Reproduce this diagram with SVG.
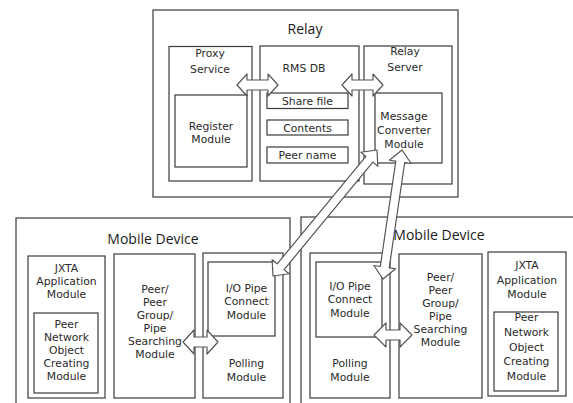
<svg xmlns="http://www.w3.org/2000/svg" width="573" height="403" viewBox="0 0 573 403">
<style>
.box{fill:none;stroke:#3a3a3a;stroke-width:1.2}
.t{font-family:"DejaVu Sans","Open Sans",sans-serif;font-size:10.8px;fill:#2a2a2a;text-anchor:middle}
.h{font-family:"Open Sans","Noto Sans",sans-serif;font-size:14px;fill:#1a1a1a;text-anchor:middle}
.ar{fill:#fff;stroke:#555;stroke-width:1.2;stroke-linejoin:round}
</style>
<rect width="573" height="403" fill="#fff"/>
<g id="relay">
<rect class="box" x="153" y="10" width="305" height="187"/>
<text class="h" x="305" y="34" font-size="13.5">Relay</text>
</g>
<g id="proxy-service">
<rect class="box" x="169" y="46.5" width="83" height="134.5"/>
<text class="t" x="210" y="57">Proxy</text>
<text class="t" x="210" y="73">Service</text>
</g>
<g id="register-module">
<rect class="box" x="175" y="95" width="72" height="72"/>
<text class="t" x="211" y="129.5">Register</text>
<text class="t" x="211" y="142.5">Module</text>
</g>
<g id="rms-db">
<rect class="box" x="260" y="46" width="99" height="135"/>
<text class="t" x="304" y="72">RMS DB</text>
</g>
<g id="share-file">
<rect class="box" x="267" y="93" width="81" height="15.5"/>
<text class="t" x="307.5" y="104.5">Share file</text>
</g>
<g id="contents">
<rect class="box" x="267" y="120" width="81" height="15"/>
<text class="t" x="307.5" y="131.5">Contents</text>
</g>
<g id="peer-name">
<rect class="box" x="267" y="147" width="81" height="16"/>
<text class="t" x="307.5" y="159">Peer name</text>
</g>
<g id="relay-server">
<rect class="box" x="364" y="46" width="88" height="138"/>
<text class="t" x="405" y="55">Relay</text>
<text class="t" x="405" y="70.5">Server</text>
</g>
<g id="message-converter">
<rect class="box" x="375" y="93" width="67" height="70"/>
<text class="t" x="404" y="120">Message</text>
<text class="t" x="404" y="133.5">Converter</text>
<text class="t" x="404" y="148">Module</text>
</g>
<g id="mobile-left">
<rect class="box" x="16" y="218" width="274" height="190"/>
<text class="h" x="153" y="243.5">Mobile Device</text>
</g>
<g id="jxta-left">
<rect class="box" x="28" y="256" width="77" height="142"/>
<text class="t" x="66.5" y="272">JXTA</text>
<text class="t" x="66.5" y="285">Application</text>
<text class="t" x="66.5" y="298">Module</text>
</g>
<g id="peer-network-left">
<rect class="box" x="34" y="313" width="64" height="80"/>
<text class="t" x="66.5" y="327.5">Peer</text>
<text class="t" x="66.5" y="340.5">Network</text>
<text class="t" x="66.5" y="353.5">Object</text>
<text class="t" x="66.5" y="366.5">Creating</text>
<text class="t" x="66.5" y="379.5">Module</text>
</g>
<g id="peer-group-left">
<rect class="box" x="114" y="254" width="81" height="144"/>
<text class="t" x="155" y="293">Peer/</text>
<text class="t" x="155" y="306">Peer</text>
<text class="t" x="155" y="319">Group/</text>
<text class="t" x="155" y="332">Pipe</text>
<text class="t" x="155" y="345">Searching</text>
<text class="t" x="155" y="358">Module</text>
</g>
<g id="polling-left">
<rect class="box" x="203" y="253" width="80" height="145"/>
<text class="t" x="246.5" y="367">Polling</text>
<text class="t" x="246.5" y="380.5">Module</text>
</g>
<g id="io-pipe-left">
<rect class="box" x="208" y="262" width="67" height="74"/>
<text class="t" x="246.5" y="292">I/O Pipe</text>
<text class="t" x="246.5" y="305">Connect</text>
<text class="t" x="246.5" y="319">Module</text>
</g>
<g id="mobile-right">
<rect class="box" x="301" y="217" width="280" height="191"/>
<text class="h" x="439" y="239.5">Mobile Device</text>
</g>
<g id="polling-right">
<rect class="box" x="310" y="253" width="80" height="145"/>
<text class="t" x="350" y="367">Polling</text>
<text class="t" x="350" y="380.5">Module</text>
</g>
<g id="io-pipe-right">
<rect class="box" x="316" y="262" width="66" height="75"/>
<text class="t" x="350" y="290">I/O Pipe</text>
<text class="t" x="350" y="303">Connect</text>
<text class="t" x="350" y="317">Module</text>
</g>
<g id="peer-group-right">
<rect class="box" x="399" y="254" width="83" height="144"/>
<text class="t" x="440.5" y="281">Peer/</text>
<text class="t" x="440.5" y="294">Peer</text>
<text class="t" x="440.5" y="307">Group/</text>
<text class="t" x="440.5" y="320">Pipe</text>
<text class="t" x="440.5" y="333">Searching</text>
<text class="t" x="440.5" y="346">Module</text>
</g>
<g id="jxta-right">
<rect class="box" x="488" y="252" width="78" height="144"/>
<text class="t" x="527" y="269">JXTA</text>
<text class="t" x="527" y="284">Application</text>
<text class="t" x="527" y="298">Module</text>
</g>
<g id="peer-network-right">
<rect class="box" x="494" y="312" width="64" height="79"/>
<text class="t" x="526.5" y="321">Peer</text>
<text class="t" x="526.5" y="336">Network</text>
<text class="t" x="526.5" y="350.5">Object</text>
<text class="t" x="526.5" y="365">Creating</text>
<text class="t" x="526.5" y="380">Module</text>
</g>
<g id="connectors">
<polygon class="ar" points="237,85 247,74 247,80 268,80 268,74 278,85 268,96 268,90 247,90 247,96"/>
<polygon class="ar" points="342,85 352,74 352,80 373,80 373,74 383,85 373,96 373,90 352,90 352,96"/>
<polygon class="ar" points="377,150 377.84,166.25 372.83,162.11 284.11,269.61 289.12,273.75 273,276 272.16,259.75 277.17,263.89 365.89,156.39 360.88,152.25"/>
<polygon class="ar" points="402,150 411.13,163.47 404.70,162.53 389.20,267.79 395.63,268.73 383,279 373.87,265.53 380.30,266.47 395.80,161.21 389.37,160.27"/>
<polygon class="ar" points="183,342 194,330 194,337 207,337 207,330 218,342 207,354 207,347 194,347 194,354"/>
<polygon class="ar" points="374,335 386,323 386,330 400,330 400,323 412,335 400,347 400,340 386,340 386,347"/>
</g>
</svg>
